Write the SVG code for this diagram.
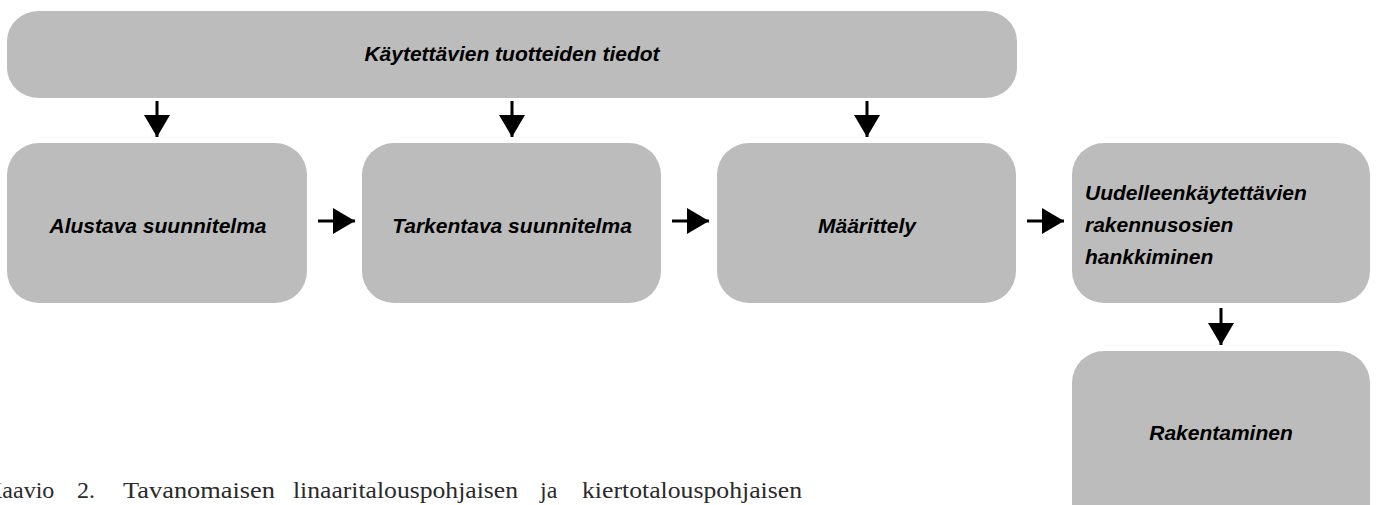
<svg xmlns="http://www.w3.org/2000/svg" width="1378" height="505" viewBox="0 0 1378 505">
  <style>
    .box { fill: #bcbcbc; }
    .lbl { font-family: "Liberation Sans", Arial, sans-serif; font-weight: bold; font-style: italic; font-size: 21px; fill: #000; }
    .mid { text-anchor: middle; }
    .cap { font-family: "Liberation Serif", "Times New Roman", serif; font-size: 24px; fill: #2a2a2a; }
    .conn { stroke: #000; stroke-width: 3; fill: none; }
  </style>
  <defs>
    <marker id="ah" viewBox="0 0 22 26" refX="22" refY="13" markerWidth="22" markerHeight="26" markerUnits="userSpaceOnUse" orient="auto">
      <path d="M0,0 L22,13 L0,26 Z" fill="#000"/>
    </marker>
  </defs>
  <rect width="1378" height="505" fill="#fff"/>

  <g id="n-tiedot">
    <rect class="box" x="7" y="11" width="1010" height="87" rx="32" ry="30"/>
    <text class="lbl mid" x="512" y="61">Käytettävien tuotteiden tiedot</text>
  </g>
  <g id="n-alustava">
    <rect class="box" x="7" y="143" width="300" height="160" rx="32" ry="32"/>
    <text class="lbl mid" x="158" y="233">Alustava suunnitelma</text>
  </g>
  <g id="n-tarkentava">
    <rect class="box" x="362" y="143" width="299" height="160" rx="32" ry="32"/>
    <text class="lbl mid" x="512" y="233">Tarkentava suunnitelma</text>
  </g>
  <g id="n-maarittely">
    <rect class="box" x="717" y="143" width="299" height="160" rx="32" ry="32"/>
    <text class="lbl mid" x="867" y="233">Määrittely</text>
  </g>
  <g id="n-hankkiminen">
    <rect class="box" x="1072" y="143" width="298" height="160" rx="32" ry="32"/>
    <text class="lbl" x="1085" y="200">Uudelleenkäytettävien</text>
    <text class="lbl" x="1085" y="232">rakennusosien</text>
    <text class="lbl" x="1085" y="264">hankkiminen</text>
  </g>
  <g id="n-rakentaminen">
    <rect class="box" x="1072" y="351" width="298" height="190" rx="32" ry="32"/>
    <text class="lbl mid" x="1221" y="440">Rakentaminen</text>
  </g>

  <g id="connectors">
    <path class="conn" d="M157,101 L157,137" marker-end="url(#ah)"/>
    <path class="conn" d="M512,101 L512,137" marker-end="url(#ah)"/>
    <path class="conn" d="M867,101 L867,137" marker-end="url(#ah)"/>
    <path class="conn" d="M318,221 L355,221" marker-end="url(#ah)"/>
    <path class="conn" d="M672,221 L709,221" marker-end="url(#ah)"/>
    <path class="conn" d="M1027,221 L1064,221" marker-end="url(#ah)"/>
    <path class="conn" d="M1221,308 L1221,345" marker-end="url(#ah)"/>
  </g>

  <g id="caption">
    <text class="cap" x="-15" y="498">Kaavio</text>
    <text class="cap" x="77" y="498">2.</text>
    <text class="cap" x="123" y="498" textLength="152" lengthAdjust="spacingAndGlyphs">Tavanomaisen</text>
    <text class="cap" x="293" y="498" textLength="225" lengthAdjust="spacingAndGlyphs">linaaritalouspohjaisen</text>
    <text class="cap" x="540" y="498">ja</text>
    <text class="cap" x="582" y="498" textLength="220" lengthAdjust="spacingAndGlyphs">kiertotalouspohjaisen</text>
  </g>
</svg>
